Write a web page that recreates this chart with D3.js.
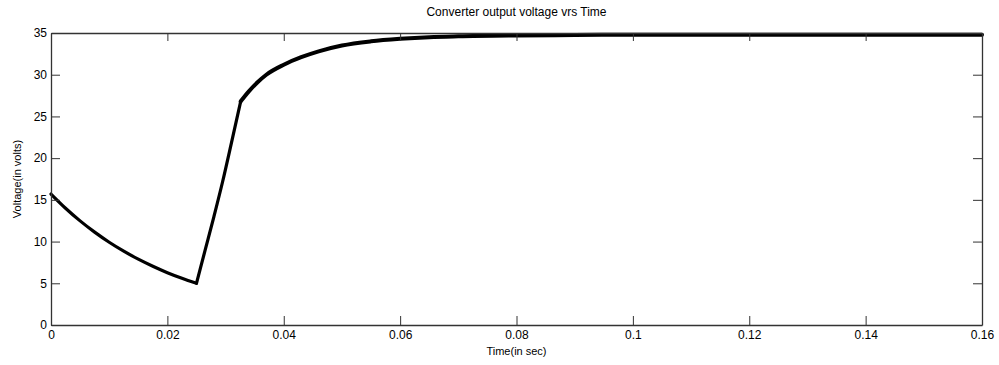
<!DOCTYPE html>
<html>
<head>
<meta charset="utf-8">
<script src="https://cdn.jsdelivr.net/npm/d3@7"></script>
<style>
  body { margin: 0; background: #fff; }
  text { font-family: "Liberation Sans", Arial, sans-serif; fill: #000; }
</style>
</head>
<body>
<svg id="chart" width="999" height="365"></svg>
<script>
// time samples (sec) and converter output voltage (V)
var times = [0, 0.0025, 0.005, 0.0075, 0.01, 0.0125, 0.015, 0.0175, 0.02, 0.0225, 0.025,
  0.0265, 0.028, 0.0295, 0.031, 0.0326,
  0.034, 0.0355, 0.037, 0.04, 0.043, 0.046, 0.05, 0.055, 0.06, 0.065, 0.07, 0.08, 0.09, 0.1, 0.12, 0.14, 0.16]
var volts = [15.7, 14.0, 12.48, 11.13, 9.92, 8.85, 7.89, 7.04, 6.27, 5.6, 5.0,
  9.0, 13.0, 17.2, 21.8, 26.8,
  28.0, 29.1, 30.0, 31.2, 32.1, 32.8, 33.5, 34.0, 34.3, 34.5, 34.6, 34.7, 34.75, 34.8, 34.8, 34.8, 34.8]

// sample indexes where the switching changes (sharp corners in the trace)
var corners = [10, 15]

var xTicks = [0, 0.02, 0.04, 0.06, 0.08, 0.1, 0.12, 0.14, 0.16]
var yTicks = [0, 5, 10, 15, 20, 25, 30, 35]

var title = 'Converter output voltage vrs Time'
var xLabel = 'Time(in sec)'
var yLabel = 'Voltage(in volts)'

var margin = {left: 51, right: 17, top: 33, bottom: 40}
var width = 999, height = 365

var svg = d3.select('#chart')

var x = d3.scaleLinear().domain([0, 0.16]).range([margin.left, width - margin.right])
var y = d3.scaleLinear().domain([0, 35]).range([height - margin.bottom, margin.top])

var data = times.map(function (t, i) { return {t: t, v: volts[i]} })

// split into smooth pieces between the corners
var pieces = []
var start = 0
corners.concat([data.length - 1]).forEach(function (c) {
  pieces.push(data.slice(start, c + 1))
  start = c
})

var line = d3.line()
  .x(function (d) { return x(d.t) })
  .y(function (d) { return y(d.v) })
  .curve(d3.curveMonotoneX)

svg.selectAll('path.trace')
  .data(pieces)
  .enter().append('path')
  .attr('class', 'trace')
  .attr('d', line)
  .attr('fill', 'none')
  .attr('stroke', '#000')
  .attr('stroke-width', function (d, i) { return i === 2 ? 4 : 3.2 })
  .attr('stroke-linejoin', 'round')
  .attr('stroke-linecap', 'round')

// axes, ticks pointing inward on all four sides
function fmt (d) { return d3.format('~g')(d) }

svg.append('g')
  .attr('transform', 'translate(0,' + y(0) + ')')
  .call(d3.axisBottom(x).tickValues(xTicks).tickFormat(fmt).tickSizeInner(-9).tickSizeOuter(0).tickPadding(5))

svg.append('g')
  .attr('transform', 'translate(0,' + y(35) + ')')
  .call(d3.axisTop(x).tickValues(xTicks).tickFormat('').tickSizeInner(-8).tickSizeOuter(0))

svg.append('g')
  .attr('transform', 'translate(' + x(0) + ',0)')
  .call(d3.axisLeft(y).tickValues(yTicks).tickSizeInner(-9).tickSizeOuter(0).tickPadding(4))

svg.append('g')
  .attr('transform', 'translate(' + x(0.16) + ',0)')
  .call(d3.axisRight(y).tickValues(yTicks).tickFormat('').tickSizeInner(-9).tickSizeOuter(0))

svg.selectAll('.domain').attr('stroke', '#333').attr('stroke-width', 1.3)
svg.selectAll('.tick line').attr('stroke', '#333')
svg.selectAll('.tick text').style('font-size', '12px').attr('fill', '#000')

svg.append('text')
  .attr('x', (x(0) + x(0.16)) / 2)
  .attr('y', 16)
  .attr('text-anchor', 'middle')
  .style('font-size', '12px')
  .text(title)

svg.append('text')
  .attr('x', (x(0) + x(0.16)) / 2)
  .attr('y', 355)
  .attr('text-anchor', 'middle')
  .style('font-size', '11px')
  .text(xLabel)

svg.append('text')
  .attr('transform', 'translate(21,' + ((y(0) + y(35)) / 2) + ') rotate(-90)')
  .attr('text-anchor', 'middle')
  .style('font-size', '11px')
  .text(yLabel)
</script>
</body>
</html>
